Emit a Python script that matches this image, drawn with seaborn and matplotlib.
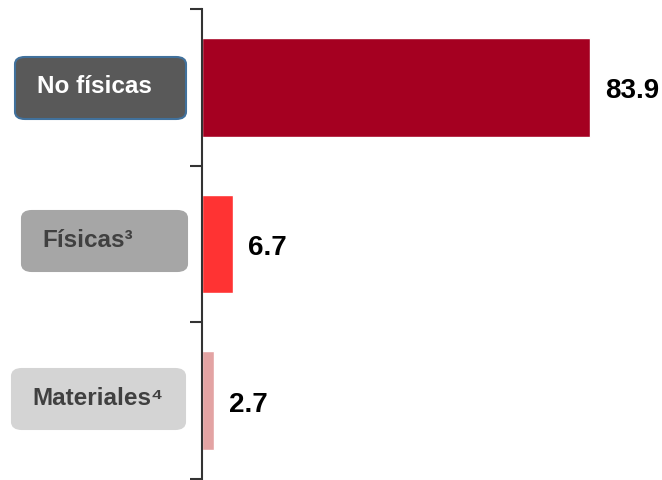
import matplotlib
matplotlib.use('Agg')
import matplotlib.pyplot as plt
from matplotlib.patches import FancyBboxPatch
import seaborn as sns
import pandas as pd

categories = ['No físicas', 'Físicas³', 'Materiales⁴']
values = [83.9, 6.7, 2.7]
value_labels = ['83.9', '6.7', '2.7']
bar_colors = ['#A50021', '#FF3333', '#E3A3A3']
box_fill = ['#595959', '#A6A6A6', '#D4D4D4']
box_edge = ['#41719C', '#A6A6A6', '#D4D4D4']
box_text = ['white', '#404040', '#404040']

sns.set_style('white')
plt.rcParams['font.family'] = ['Liberation Sans', 'DejaVu Sans']

df = pd.DataFrame({'cat': categories, 'val': values})

W, H = 662, 481
fig = plt.figure(figsize=(W / 100, H / 100), dpi=100)
ax = fig.add_axes([202 / W, 1 - 480 / H, 458 / W, 470 / H])

sns.barplot(data=df, y='cat', x='val', hue='cat', palette=bar_colors,
            orient='h', width=0.63, legend=False, ax=ax, saturation=1)

ax.set_xlim(0, 99)
ax.set_ylim(2.5, -0.5)
ax.set_xlabel('')
ax.set_ylabel('')
ax.set_xticks([])
ax.set_yticks([-0.5, 0.5, 1.5, 2.5])
ax.set_yticklabels([])
ax.tick_params(axis='y', length=9, width=1.5, color='#333333', left=True)
for s in ['top', 'right', 'bottom']:
    ax.spines[s].set_visible(False)
ax.spines['left'].set_color('#333333')
ax.spines['left'].set_linewidth(1.5)

# value labels, 15 px right of the bar end
for i, v in enumerate(values):
    ax.annotate(value_labels[i], xy=(v, i), xytext=(15, -10),
                textcoords='offset pixels', va='baseline', ha='left',
                fontsize=20, fontweight='bold', color='black')

# category label boxes (pixel coordinates of the image)
boxes = [(15, 58, 186, 120), (22, 212, 187, 272), (12, 370, 185, 430)]
text_pos = [(37, 93), (42, 247), (32, 405)]
for i, (x0, y0, x1, y1) in enumerate(boxes):
    p = FancyBboxPatch((x0 / W, 1 - y1 / H), (x1 - x0) / W, (y1 - y0) / H,
                       boxstyle='round,pad=0,rounding_size=0.015',
                       transform=fig.transFigure, facecolor=box_fill[i],
                       edgecolor=box_edge[i], linewidth=1.5)
    fig.add_artist(p)
    tx, ty = text_pos[i]
    fig.text(tx / W, 1 - ty / H, categories[i], ha='left', va='baseline',
             fontsize=17.5, fontweight='bold', color=box_text[i])

fig.savefig('out.png', dpi=100)
